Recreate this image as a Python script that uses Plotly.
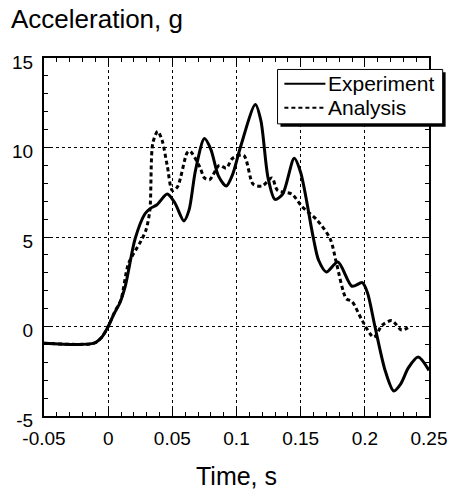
import plotly.graph_objects as go

exp_t = [-0.05, -0.011, -0.005, 0.0, 0.0045, 0.009, 0.0135, 0.021, 0.0287, 0.033, 0.038,
         0.046, 0.052, 0.059, 0.063, 0.068, 0.075, 0.08, 0.086, 0.092, 0.097, 0.103,
         0.1147, 0.119, 0.1246, 0.13, 0.136, 0.145, 0.15, 0.16, 0.164, 0.170, 0.179,
         0.19, 0.198, 0.202, 0.208, 0.216, 0.2225, 0.228, 0.234, 0.2415, 0.25]
exp_a = [-0.93, -0.93, -0.6, 0.0, 0.7, 1.3, 2.3, 4.9, 6.3, 6.6, 6.8,
         7.4, 6.9, 5.9, 6.5, 8.7, 10.5, 9.9, 8.4, 7.85, 8.5, 10.0,
         12.4, 11.5, 8.3, 7.1, 7.4, 9.4, 8.6, 4.9, 3.7, 3.05, 3.6,
         2.25, 2.45, 1.9, -0.04, -2.5, -3.6, -3.2, -2.3, -1.7, -2.45]

ana_t = [-0.05, -0.011, -0.005, 0.0, 0.005, 0.01, 0.0158, 0.0257, 0.0295, 0.0325, 0.0348,
         0.0386, 0.042, 0.046, 0.05, 0.054, 0.0615, 0.0637, 0.0715, 0.075, 0.079, 0.0866,
         0.092, 0.097, 0.1056, 0.113, 0.12, 0.1276, 0.132, 0.143, 0.151, 0.1626, 0.173,
         0.178, 0.1855, 0.19, 0.198, 0.207, 0.2135, 0.221, 0.2287, 0.235]
ana_a = [-0.93, -0.93, -0.6, 0.0, 0.8, 1.5, 3.5, 4.8, 5.4, 6.5, 10.25,
         10.9, 10.4, 9.0, 7.6, 7.8, 9.7, 9.8, 8.9, 8.3, 8.2, 9.0,
         8.85, 9.4, 9.56, 7.95, 7.85, 8.3, 7.6, 7.4, 6.7, 5.96, 4.9,
         3.5, 1.56, 1.4, 0.33, -0.6, 0.07, 0.33, -0.2, 0.0]

x_ticks = [-0.05, 0, 0.05, 0.1, 0.15, 0.2, 0.25]
x_labels = ["-0.05", "0", "0.05", "0.1", "0.15", "0.2", "0.25"]
y_ticks = [-5, 0, 5, 10, 15]
y_labels = ["-5", "0", "5", "10", "15"]
series_names = ["Experiment", "Analysis"]

FONT = "Liberation Sans, Arial, Helvetica, sans-serif"
EXP_DASH = "solid"
ANA_DASH = "4px,3px"

fig = go.Figure()
fig.add_trace(go.Scatter(x=exp_t, y=exp_a, mode="lines", name=series_names[0],
                         line=dict(color="black", width=3, dash=EXP_DASH, shape="spline", smoothing=0.8)))
fig.add_trace(go.Scatter(x=ana_t, y=ana_a, mode="lines", name=series_names[1],
                         line=dict(color="black", width=3, dash=ANA_DASH, shape="spline", smoothing=0.8)))

axis_common = dict(showline=True, linecolor="black", linewidth=2, mirror="ticks",
                   ticks="inside", ticklen=7, tickwidth=1, tickcolor="black",
                   showgrid=True, gridcolor="black", gridwidth=1, griddash="dot",
                   zeroline=False, tickfont=dict(family=FONT, size=19, color="black"))

fig.update_xaxes(range=[-0.05, 0.25], tickvals=x_ticks, ticktext=x_labels,
                 minor=dict(dtick=0.01, tick0=0, ticks="inside", ticklen=4, tickcolor="black", showgrid=False),
                 ticklabelstandoff=4,
                 title=dict(text="Time, s", font=dict(family=FONT, size=25, color="black"), standoff=20),
                 **axis_common)
fig.update_yaxes(range=[-5, 15], tickvals=y_ticks, ticktext=y_labels,
                 minor=dict(dtick=1, tick0=0, ticks="inside", ticklen=4, tickcolor="black", showgrid=False),
                 ticklabelshift=4, ticklabelstandoff=5,
                 **axis_common)

# plot area in pixels
L, R, T, B = 44, 438, 58, 433
PW, PH = R - L, B - T


def px(xp):
    return (xp - L) / PW


def py(yp):
    return (B - yp) / PH


# manual legend: shadow, box, line samples, labels
box = dict(l=283, r=452, t=70, b=127)
fig.add_shape(type="rect", xref="paper", yref="paper",
              x0=px(box["l"] + 3), x1=px(box["r"] + 3), y0=py(box["b"] + 3), y1=py(box["t"] + 3),
              fillcolor="black", line=dict(width=0), layer="above")
fig.add_shape(type="rect", xref="paper", yref="paper",
              x0=px(box["l"]), x1=px(box["r"]), y0=py(box["b"]), y1=py(box["t"]),
              fillcolor="white", line=dict(color="black", width=1), layer="above")
for name, dash, yy in [(series_names[0], EXP_DASH, 85), (series_names[1], ANA_DASH, 110)]:
    fig.add_shape(type="line", xref="paper", yref="paper",
                  x0=px(290), x1=px(332), y0=py(yy), y1=py(yy),
                  line=dict(color="black", width=2, dash=dash), layer="above")
    fig.add_annotation(text=name, xref="paper", yref="paper", x=px(333), y=py(yy),
                       xanchor="left", yanchor="middle", showarrow=False,
                       font=dict(family=FONT, size=21, color="black"))

fig.add_annotation(text="Acceleration, g", xref="paper", yref="paper",
                   x=px(8), y=py(17), xanchor="left", yanchor="middle",
                   showarrow=False, font=dict(family=FONT, size=26, color="black"))

fig.update_layout(
    width=459, height=498,
    margin=dict(l=L, r=459 - R, t=T, b=498 - B),
    paper_bgcolor="white", plot_bgcolor="white",
    showlegend=False,
)

fig.write_html("out.html")
